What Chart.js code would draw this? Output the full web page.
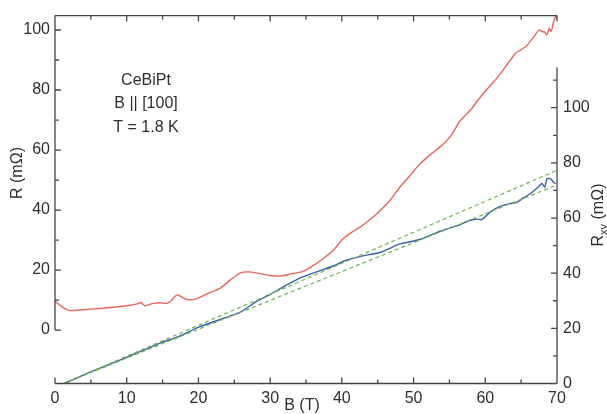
<!DOCTYPE html>
<html>
<head>
<meta charset="utf-8">
<script src="https://cdn.jsdelivr.net/npm/chart.js@4.4.1/dist/chart.umd.min.js"></script>
<style>
  html, body { margin: 0; padding: 0; background: #fff; }
  #wrap { width: 607px; height: 414px; }
</style>
</head>
<body>
<div id="wrap"><canvas id="chartR"></canvas></div>
<script>
// R (left axis) vs B
const fieldR = [0, 0.7, 1.3, 2.1, 4, 6.3, 8, 10, 11.6, 12.0, 12.5, 13.0, 13.7, 14.7, 15.6, 16.2, 16.8, 17.2, 18.0, 18.6,
    19.8, 21.4, 23.0, 24.5, 25.8, 27.0, 28.6, 30.0, 31.5, 33.0, 34.5, 36.0, 37.5, 38.8, 40.2, 41.5, 42.6, 44.0, 44.9, 46.7,
    48.1, 49.5, 50.9, 52.5, 54.2, 55.4, 56.5, 58.0, 59.3, 60.7, 62.1, 63.2, 64.2, 65.0, 65.8, 66.7, 67.5, 67.9, 68.3, 68.6,
    68.9, 69.2, 69.5, 69.8, 70];
const resR = [9.6, 8.3, 7.2, 6.5, 6.8, 7.2, 7.6, 8.1, 8.8, 9.2, 8.1, 8.4, 8.9, 9.1, 8.9, 9.8, 11.4, 11.6, 10.6, 10.1,
    10.5, 12.3, 13.9, 16.8, 19.0, 19.4, 18.8, 18.2, 18.0, 18.8, 19.5, 21.5, 24.0, 26.6, 30.5, 32.8, 34.4, 37.0, 38.8, 43.2,
    47.7, 51.5, 55.4, 58.8, 62.1, 65.5, 69.8, 73.5, 77.6, 81.5, 85.4, 89.0, 92.2, 93.4, 94.8, 97.5, 100.0, 99.5, 99.3, 98.4,
    100.5, 99.6, 102.5, 104.5, 103.5];

// Rxy (right axis) vs B
const fieldHall = [1.3, 5, 10, 15, 17, 20.2, 23, 25.8, 28, 30, 32, 34.2, 36.5, 38.8, 40.5, 42.6, 45.4, 48.1, 50.9, 53.7,
    56.5, 57.9, 59.0, 59.5, 60.7, 62.1, 63.5, 64.4, 65.3, 66.3, 67.2, 67.9, 68.3, 68.6, 69.1, 69.5, 69.8];
const resHall = [0, 4.2, 9.5, 15.0, 16.8, 20.6, 23.2, 25.8, 29.6, 32.3, 35.3, 38.3, 40.5, 42.6, 44.6, 46.1, 47.6, 50.6, 52.2, 55.2,
    57.6, 59.2, 59.6, 59.4, 62.2, 64.2, 65.2, 65.7, 67.2, 68.9, 70.8, 72.5, 71.2, 74.2, 74.3, 73.0, 72.5];

// linear fits (green dashed)
const fieldFit = [1.2, 70];
const fitHigh = [0, 77.3];
const fitLow = [0, 72.0];

const ticksB = [0, 10, 20, 30, 40, 50, 60, 70];
const ticksR = [0, 20, 40, 60, 80, 100];
const ticksHall = [0, 20, 40, 60, 80, 100];
const notes = ['CeBiPt', 'B || [100]', 'T = 1.8 K'];

const toPoints = (xs, ys) => xs.map((b, i) => ({ x: b, y: ys[i] }));
const fixTicks = list => s => { s.ticks = list.map(v => ({ value: v })); };

const axisColor = '#454545';
const textColor = '#2e2e2e';
const fontFam = '"Liberation Sans", Arial, sans-serif';
const rightAxisTop = 114.7;

Chart.defaults.font.family = fontFam;
Chart.defaults.font.size = 16;
Chart.defaults.color = textColor;

const frame = {
    id: 'frame',
    afterDatasetsDraw(chart) {
        const { ctx, chartArea: a, scales } = chart;
        const x = scales.x, y = scales.y, y2 = scales.y2;
        ctx.save();
        ctx.strokeStyle = axisColor;
        ctx.lineWidth = 1.3;
        ctx.beginPath();
        ctx.moveTo(a.left, a.bottom); ctx.lineTo(a.right, a.bottom);
        ctx.moveTo(a.left, a.top); ctx.lineTo(a.right, a.top);
        ctx.moveTo(a.left, a.top); ctx.lineTo(a.left, y.getPixelForValue(0));
        ctx.moveTo(a.right, y2.getPixelForValue(rightAxisTop)); ctx.lineTo(a.right, a.bottom);
        for (let b = 0; b <= 70; b += 5) {
            const px = x.getPixelForValue(b);
            const len = b % 10 === 0 ? 6 : 4;
            ctx.moveTo(px, a.bottom); ctx.lineTo(px, a.bottom - len);
            ctx.moveTo(px, a.top); ctx.lineTo(px, a.top + len);
        }
        for (let v = 0; v <= 100; v += 10) {
            const py = y.getPixelForValue(v);
            ctx.moveTo(a.left, py); ctx.lineTo(a.left + (v % 20 === 0 ? 6 : 4), py);
        }
        for (let v = 0; v <= 110; v += 10) {
            const py = y2.getPixelForValue(v);
            ctx.moveTo(a.right, py); ctx.lineTo(a.right - (v % 20 === 0 ? 6 : 4), py);
        }
        ctx.stroke();

        ctx.fillStyle = textColor;
        ctx.font = '16px ' + fontFam;
        ctx.textAlign = 'center';
        ctx.textBaseline = 'alphabetic';
        ctx.fillText(notes[0], 146, 85);
        ctx.fillText(notes[1], 146, 108);
        ctx.fillText(notes[2], 146, 132);

        // axis titles
        ctx.font = '16px ' + fontFam;
        ctx.textBaseline = 'middle';
        ctx.fillText('B (T)', 302, 406);

        ctx.save();
        ctx.translate(18, 173);
        ctx.rotate(-Math.PI / 2);
        ctx.fillText('R (mΩ)', 0, 0);
        ctx.restore();

        // R_xy with subscript
        ctx.save();
        ctx.translate(599, 215);
        ctx.rotate(-Math.PI / 2);
        ctx.textAlign = 'left';
        ctx.font = '16px ' + fontFam;
        const wR = ctx.measureText('R').width;
        const rest = ' (mΩ)';
        const wRest = ctx.measureText(rest).width;
        ctx.font = '11px ' + fontFam;
        const wSub = ctx.measureText('xy').width;
        let cx = -(wR + wSub + wRest) / 2;
        ctx.font = '16px ' + fontFam;
        ctx.fillText('R', cx, 0);
        cx += wR;
        ctx.font = '11px ' + fontFam;
        ctx.fillText('xy', cx, 5);
        cx += wSub;
        ctx.font = '16px ' + fontFam;
        ctx.fillText(rest, cx, 0);
        ctx.restore();

        ctx.restore();
    }
};

new Chart(document.getElementById('chartR'), {
    type: 'line',
    data: {
        datasets: [
            { data: toPoints(fieldFit, fitHigh), yAxisID: 'y2', borderColor: '#6fb450', borderWidth: 1.2, borderDash: [4, 3], pointRadius: 0, tension: 0 },
            { data: toPoints(fieldFit, fitLow), yAxisID: 'y2', borderColor: '#6fb450', borderWidth: 1.2, borderDash: [4, 3], pointRadius: 0, tension: 0 },
            { data: toPoints(fieldHall, resHall), yAxisID: 'y2', borderColor: '#3a5fa6', borderWidth: 1.4, pointRadius: 0, tension: 0.2 },
            { data: toPoints(fieldR, resR), yAxisID: 'y', borderColor: '#e5675c', borderWidth: 1.4, pointRadius: 0, tension: 0.25 }
        ]
    },
    options: {
        responsive: true,
        maintainAspectRatio: false,
        animation: false,
        layout: { padding: { top: 15, left: 0, right: 0, bottom: 0 } },
        plugins: { legend: { display: false }, tooltip: { enabled: false } },
        scales: {
            x: {
                type: 'linear', position: 'bottom', min: 0, max: 70,
                grid: { display: false, drawTicks: false },
                border: { display: false },
                ticks: { padding: 5, maxRotation: 0, autoSkip: false },
                afterBuildTicks: fixTicks(ticksB),
                afterFit: s => { s.height = 30.5; }
            },
            y: {
                type: 'linear', position: 'left', min: -17.8, max: 104.8,
                grid: { display: false, drawTicks: false },
                border: { display: false },
                ticks: { padding: 5, autoSkip: false },
                afterBuildTicks: fixTicks(ticksR),
                afterFit: s => { s.width = 55; }
            },
            y2: {
                type: 'linear', position: 'right', min: 0, max: 133.4,
                grid: { display: false, drawTicks: false },
                border: { display: false },
                ticks: { padding: 6, autoSkip: false },
                afterBuildTicks: fixTicks(ticksHall),
                afterFit: s => { s.width = 50; }
            }
        }
    },
    plugins: [frame]
});
</script>
</body>
</html>
